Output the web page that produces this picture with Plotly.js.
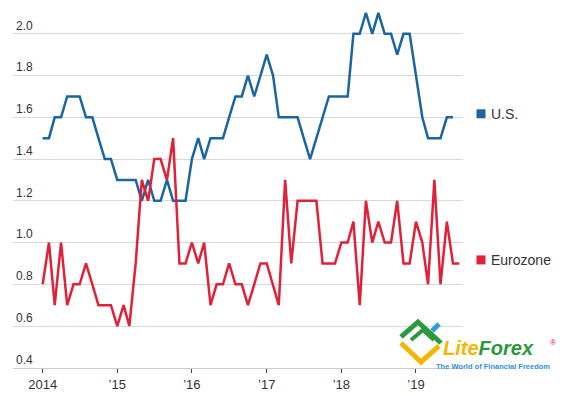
<!DOCTYPE html>
<html>
<head>
<meta charset="utf-8">
<script src="https://cdn.plot.ly/plotly-3.0.1.min.js"></script>
<style>html,body{margin:0;padding:0;background:#fff;}#chart{width:567px;height:396px;}</style>
</head>
<body>
<div id="chart"></div>
<script>
// Monthly values, starting January 2014
const startYear = 2014;
const usValues = [
  1.5,1.5,1.6,1.6,1.7,1.7,1.7,1.6,1.6,1.5,1.4,1.4,
  1.3,1.3,1.3,1.3,1.2,1.3,1.2,1.2,1.3,1.2,1.2,1.2,
  1.4,1.5,1.4,1.5,1.5,1.5,1.6,1.7,1.7,1.8,1.7,1.8,
  1.9,1.8,1.6,1.6,1.6,1.6,1.5,1.4,1.5,1.6,1.7,1.7,
  1.7,1.7,2.0,2.0,2.1,2.0,2.1,2.0,2.0,1.9,2.0,2.0,
  1.8,1.6,1.5,1.5,1.5,1.6,1.6
];
const euroValues = [
  0.8,1.0,0.7,1.0,0.7,0.8,0.8,0.9,0.8,0.7,0.7,0.7,
  0.6,0.7,0.6,0.9,1.3,1.2,1.4,1.4,1.3,1.5,0.9,0.9,
  1.0,0.9,1.0,0.7,0.8,0.8,0.9,0.8,0.8,0.7,0.8,0.9,
  0.9,0.8,0.7,1.3,0.9,1.2,1.2,1.2,1.2,0.9,0.9,0.9,
  1.0,1.0,1.1,0.7,1.2,1.0,1.1,1.0,1.0,1.2,0.9,0.9,
  1.1,1.0,0.8,1.3,0.8,1.1,0.9,0.9
];
const seriesNames = ['U.S.', 'Eurozone'];
const xTickVals = ['2014-01-01','2015-01-01','2016-01-01','2017-01-01','2018-01-01','2019-01-01'];
const xTickText = ['2014','\u201915','\u201916','\u201917','\u201918','\u201919'];
const yTickVals = [0.4,0.6,0.8,1.0,1.2,1.4,1.6,1.8,2.0];
const yTickText = ['0.4','0.6','0.8','1.0','1.2','1.4','1.6','1.8','2.0'];

const BLUE = '#1b65a1';
const RED = '#e0213a';

function monthDates(n) {
  const out = [];
  for (let i = 0; i < n; i++) {
    const y = startYear + Math.floor(i / 12);
    const m = (i % 12) + 1;
    out.push(y + '-' + (m < 10 ? '0' + m : m) + '-01');
  }
  return out;
}

const traces = [
  {x: monthDates(usValues.length), y: usValues, name: seriesNames[0], type: 'scatter', mode: 'lines',
   line: {color: BLUE, width: 2.5}, hoverinfo: 'skip'},
  {x: monthDates(euroValues.length), y: euroValues, name: seriesNames[1], type: 'scatter', mode: 'lines',
   line: {color: RED, width: 2.5}, hoverinfo: 'skip'}
];

const usLast = usValues[usValues.length - 1];
const euroLast = euroValues[euroValues.length - 1];

// helper for logo coordinates in pixels -> paper
const L = 13, W = 450, T = 10, H = 358;
function px(x) { return (x - L) / W; }
function py(y) { return (T + H - y) / H; }
function pathPx(pts) {
  return pts.map((p, i) => (i ? 'L' : 'M') + px(p[0]).toFixed(4) + ',' + py(p[1]).toFixed(4)).join(' ');
}

const layout = {
  width: 567, height: 396,
  margin: {l: L, r: 567 - L - W, t: T, b: 396 - T - H},
  paper_bgcolor: '#ffffff', plot_bgcolor: '#ffffff',
  showlegend: false,
  font: {family: 'Liberation Sans, Arial, sans-serif', color: '#333333'},
  xaxis: {
    type: 'date',
    range: ['2013-08-09', '2019-08-19'],
    tickvals: xTickVals, ticktext: xTickText,
    showgrid: false, zeroline: false,
    showline: true, linecolor: '#cccccc', linewidth: 1,
    ticks: 'outside', ticklen: 4, tickcolor: '#444444', tickwidth: 1,
    tickfont: {size: 13, color: '#333333'}
  },
  yaxis: {
    range: [0.399, 2.114],
    tickvals: yTickVals, ticktext: yTickText,
    ticklabelposition: 'inside top',
    ticks: '', showline: false, zeroline: false,
    gridcolor: '#d9d9d9', gridwidth: 1,
    tickfont: {size: 12, color: '#333333'}
  },
  shapes: [
    {type: 'rect', xref: 'paper', yref: 'y', xsizemode: 'pixel', ysizemode: 'pixel',
     xanchor: px(481), yanchor: usLast, x0: -4.5, x1: 4.5, y0: -1, y1: 8,
     fillcolor: BLUE, line: {width: 0}},
    {type: 'rect', xref: 'paper', yref: 'y', xsizemode: 'pixel', ysizemode: 'pixel',
     xanchor: px(481), yanchor: euroLast, x0: -4.5, x1: 4.5, y0: -1, y1: 8,
     fillcolor: RED, line: {width: 0}},
    // logo marks
    {type: 'path', xref: 'paper', yref: 'paper', path: pathPx([[401,337],[418,322],[441,343]]),
     line: {color: '#2a9a3c', width: 5}},
    {type: 'path', xref: 'paper', yref: 'paper', path: pathPx([[411,340],[423,330],[434,340]]),
     line: {color: '#2a9a3c', width: 4}},
    {type: 'path', xref: 'paper', yref: 'paper', path: pathPx([[401,343],[421,362],[439,346]]),
     line: {color: '#f2b705', width: 5}},
    {type: 'path', xref: 'paper', yref: 'paper', path: pathPx([[432,331],[439,324]]),
     line: {color: '#2f9be0', width: 5}}
  ],
  annotations: [
    {xref: 'paper', yref: 'y', x: px(489), y: usLast, yshift: 3, xanchor: 'left', yanchor: 'middle',
     text: seriesNames[0], showarrow: false, font: {size: 14, color: '#333333'}},
    {xref: 'paper', yref: 'y', x: px(489), y: euroLast, yshift: 3, xanchor: 'left', yanchor: 'middle',
     text: seriesNames[1], showarrow: false, font: {size: 14, color: '#333333'}},
    {xref: 'paper', yref: 'paper', x: px(442), y: py(348), xanchor: 'left', yanchor: 'middle',
     text: '<b><i><span style="color:#f2b705">Lite</span><span style="color:#2a9a3c">Forex</span></i></b>',
     showarrow: false, font: {size: 20}, borderpad: 0},
    {xref: 'paper', yref: 'paper', x: px(548), y: py(342), xanchor: 'left', yanchor: 'middle',
     text: '\u00ae', showarrow: false, font: {size: 8, color: '#e0213a'}},
    {xref: 'paper', yref: 'paper', x: px(435), y: py(366), xanchor: 'left', yanchor: 'middle',
     text: '<b>The World of Financial Freedom</b>', showarrow: false, font: {size: 7.5, color: '#2f8fd8'}, borderpad: 0}
  ]
};

Plotly.newPlot('chart', traces, layout, {displayModeBar: false, staticPlot: true});
</script>
</body>
</html>
